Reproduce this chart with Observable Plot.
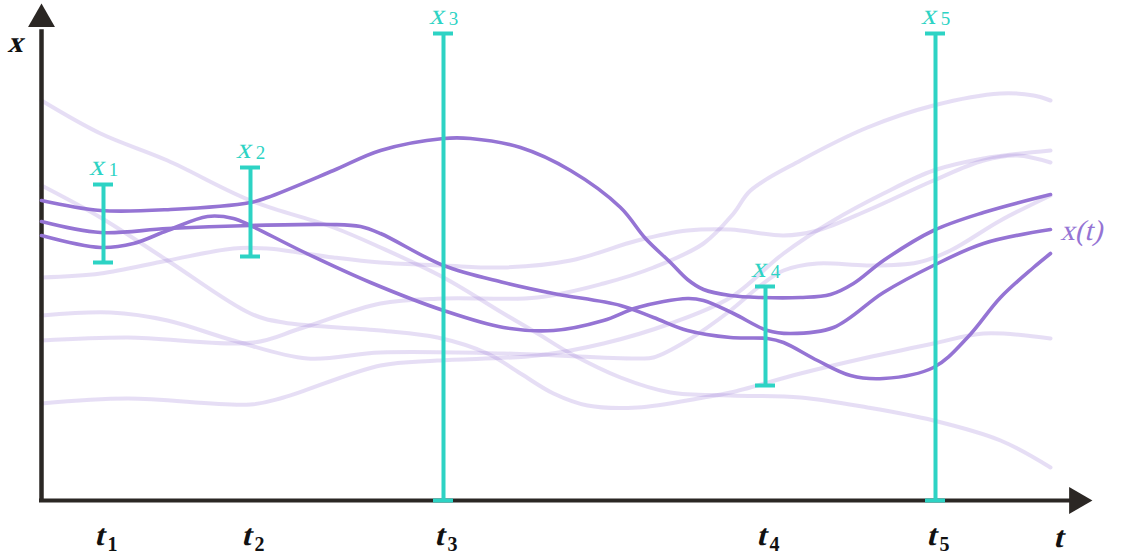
<!DOCTYPE html>
<html>
<head>
<meta charset="utf-8">
<script src="https://cdn.jsdelivr.net/npm/d3@7"></script>
<script src="https://cdn.jsdelivr.net/npm/@observablehq/plot@0.6"></script>
<style>
  html, body { margin: 0; padding: 0; background: #ffffff; }
  svg { display: block; }
</style>
</head>
<body>
<div id="chart"></div>
<script>
// ---- Data (t: time, x: value) ----
// Highlighted sample paths x(t)
const curveA = [[0,300],[59,290],[129,291],[209,298],[226,303],[292,330],[339,350],[402,362],[429,362],[479,353],[529,330],[579,293],[604,262],[629,238],[646,221],[662,211],[689,205],[719,203],[759,203],[789,206],[812,217],[842,240],[892,270],[942,288],[1009,306]];
const curveB = [[0,279],[59,268],[126,272],[209,275],[289,276],[319,274],[339,267],[402,235],[462,218],[512,207],[579,195],[612,183],[646,170],[689,163],[726,162],[742,158],[776,140],[809,125],[842,122],[892,133],[926,163],[959,203],[992,233],[1009,247]];
const curveC = [[0,265],[59,253],[92,257],[126,270],[166,284],[192,282],[209,275],[259,250],[329,218],[402,190],[462,173],[512,170],[562,180],[596,193],[646,202],[662,200],[692,187],[726,170],[749,167],[792,173],[842,208],[892,235],[942,257],[1009,271]];

// Faint background sample paths
const faint1 = [[0,400],[59,367],[126,340],[209,300],[292,273],[339,253],[402,223],[462,187],[496,167],[529,147],[579,123],[629,108],[689,105],[759,103],[826,93],[892,80],[959,60],[1009,33]];
const faint2 = [[0,315],[59,283],[126,240],[209,187],[242,178],[339,170],[396,163],[446,147],[479,127],[512,107],[546,95],[596,93],[662,103],[689,108],[759,127],[826,143],[892,157],[942,167],[1009,162]];
const faint3 = [[0,223],[59,227],[126,240],[192,252],[226,252],[292,243],[339,238],[402,235],[462,233],[529,240],[596,260],[646,270],[689,271],[742,265],[776,270],[826,290],[892,320],[942,340],[976,345],[1009,338]];
const faint4 = [[0,185],[69,188],[126,180],[192,160],[266,142],[339,148],[462,147],[596,142],[612,143],[646,160],[689,190],[719,215],[742,230],[776,237],[826,235],[876,238],[909,250],[959,280],[1009,305]];
const faint5 = [[0,160],[86,163],[212,158],[259,172],[339,197],[402,202],[496,203],[562,217],[612,233],[662,257],[692,287],[709,310],[759,340],[826,373],[892,395],[959,407],[992,405],[1009,400]];
const faint6 = [[0,97],[86,102],[209,96],[242,103],[339,135],[396,140],[496,145],[562,157],[629,177],[689,203],[742,247],[792,280],[842,307],[892,330],[942,342],[1009,350]];

// Observations x_i at times t_i with their intervals
const obsT    = [62, 209, 402, 724, 894];
const obsLow  = [238, 244, 0, 115, 0];
const obsHigh = [316, 333, 467, 214, 467];
const obsSub  = ["1", "2", "3", "4", "5"];

// Axis extents (data units)
const tAxisMax = 1051;   // tip of the t-axis arrow
const xAxisMax = 497;    // tip of the x-axis arrow

// ---- Styles ----
const purple = "#9574d4";
const teal = "#2dd3c4";
const axisColor = "#2b2724";
const serif = "Liberation Serif";

// ---- Build tables ----
const toRows = (list) => list.flatMap(([id, pts]) => pts.map(([t, x]) => ({id, t, x})));
const mainRows = toRows([["A", curveA], ["B", curveB], ["C", curveC]]);
const faintRows = toRows([["f1", faint1], ["f2", faint2], ["f3", faint3], ["f4", faint4], ["f5", faint5], ["f6", faint6]]);
const obs = obsT.map((t, i) => ({t, low: obsLow[i], high: obsHigh[i], sub: obsSub[i]}));
const capHalf = 10;
const triR = 10;
const triOffset = 15.6;
const labelEnd = curveC[curveC.length - 1];

// math-style (slanted) text: upright serif face, slanted afterwards
const mathText = (data, opts) => Plot.text(data, {fontFamily: serif, textAnchor: "middle", lineAnchor: "middle", ariaDescription: "math", ...opts});

const plot = Plot.plot({
  width: 1126,
  height: 559,
  marginLeft: 0, marginRight: 0, marginTop: 0, marginBottom: 0,
  x: {domain: [-41, 1085], axis: null},
  y: {domain: [-59, 500], axis: null},
  style: {background: "#ffffff", overflow: "visible"},
  marks: [
    Plot.line(faintRows, {x: "t", y: "x", z: "id", stroke: purple, strokeOpacity: 0.24, strokeWidth: 4, curve: "catmull-rom"}),
    Plot.ruleX([0], {y1: 0, y2: xAxisMax - 2 * triOffset + 5, stroke: axisColor, strokeWidth: 4.5}),
    Plot.ruleY([0], {x1: -2, x2: tAxisMax - 2 * triOffset + 10, stroke: axisColor, strokeWidth: 4}),
    Plot.dot([{t: 0, x: xAxisMax - triOffset}], {x: "t", y: "x", symbol: "triangle", r: triR, fill: axisColor, stroke: "none"}),
    Plot.dot([{t: tAxisMax - triOffset, x: 0}], {x: "t", y: "x", symbol: "triangle", r: triR, rotate: 90, fill: axisColor, stroke: "none"}),
    Plot.line(mainRows, {x: "t", y: "x", z: "id", stroke: purple, strokeWidth: 3.6, curve: "catmull-rom"}),
    Plot.ruleX(obs, {x: "t", y1: "low", y2: "high", stroke: teal, strokeWidth: 4}),
    Plot.ruleY(obs, {y: "high", x1: d => d.t - capHalf, x2: d => d.t + capHalf, stroke: teal, strokeWidth: 4}),
    Plot.ruleY(obs, {y: "low", x1: d => d.t - capHalf, x2: d => d.t + capHalf, stroke: teal, strokeWidth: 4}),
    // observation labels x_i
    mathText(obs, {x: "t", y: "high", text: () => "x", dx: -5, dy: -19, fontSize: 29, fill: teal}),
    Plot.text(obs, {x: "t", y: "high", text: "sub", fontFamily: serif, dx: 10, dy: -15, fontSize: 19, fill: teal, textAnchor: "middle", lineAnchor: "middle"}),
    // time tick labels t_i
    mathText(obs, {x: "t", frameAnchor: "bottom", text: () => "t", dx: -2, dy: -24, fontSize: 30, fontWeight: "bold", fill: "#111"}),
    Plot.text(obs, {x: "t", frameAnchor: "bottom", text: "sub", fontFamily: serif, dx: 9, dy: -15, fontSize: 20, fontWeight: "bold", fill: "#111", textAnchor: "middle", lineAnchor: "middle"}),
    // axis labels
    mathText(["x"], {frameAnchor: "top-left", text: d => d, dx: 17, dy: 42, fontSize: 30, fontWeight: "bold", fill: "#111"}),
    mathText(["t"], {frameAnchor: "bottom-right", text: d => d, dx: -66, dy: -22, fontSize: 30, fontWeight: "bold", fill: "#111"}),
    // x(t) label
    mathText([{t: labelEnd[0], x: labelEnd[1]}], {x: "t", y: "x", text: () => "x(t)", dx: 12, dy: 1, fontSize: 29, fill: purple, textAnchor: "start"})
  ]
});

// slant the math labels (italic faces are not available, so shear the upright serif)
d3.select(plot).selectAll("[aria-description='math'] text, text[aria-description='math']").each(function () {
  const tr = this.getAttribute("transform") || "";
  this.setAttribute("transform", `${tr} skewX(-14)`);
});

document.getElementById("chart").appendChild(plot);
</script>
</body>
</html>
